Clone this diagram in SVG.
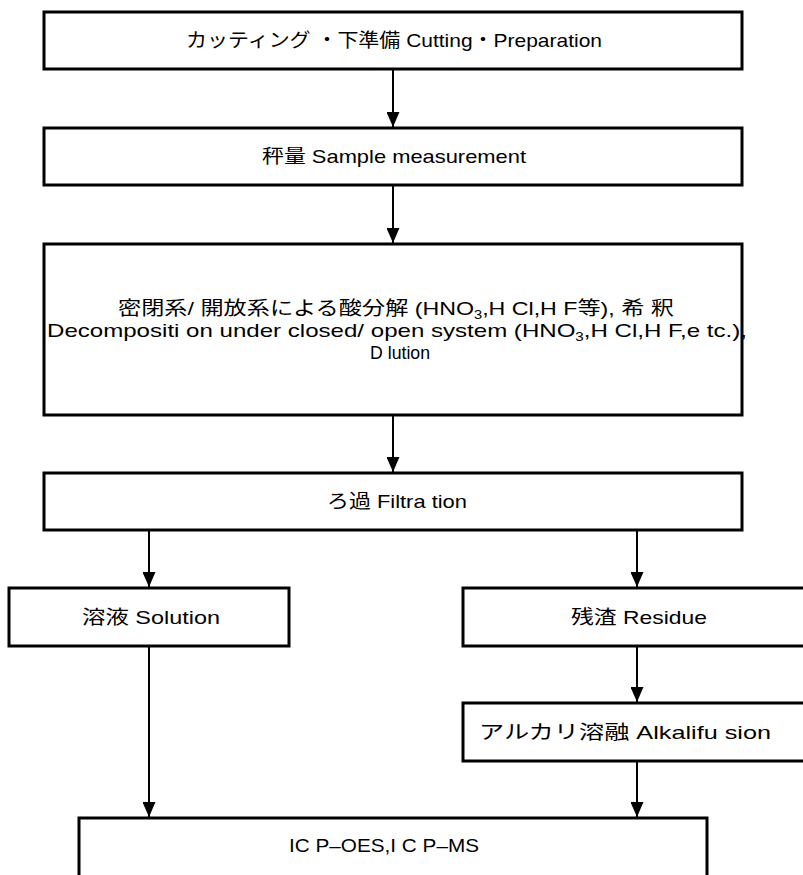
<svg xmlns="http://www.w3.org/2000/svg" width="803" height="875" viewBox="0 0 803 875">
<style>
.box{fill:#fff;stroke:#000;stroke-width:3}
.t{font-family:"Liberation Sans","Noto Sans CJK JP",sans-serif;font-size:19px;fill:#000}
.c{stroke:#000;stroke-width:2;fill:none}
</style>
<defs>
<marker id="ah" markerUnits="userSpaceOnUse" viewBox="0 0 15 13" refX="15" refY="6.5" markerWidth="15" markerHeight="13" orient="auto">
<path d="M0,0 L15,6.5 L0,13 Z" fill="#000"/>
</marker>
</defs>
<rect width="803" height="875" fill="#fff"/>
<g id="connectors">
<line class="c" x1="393" y1="70" x2="393" y2="127" marker-end="url(#ah)"/>
<line class="c" x1="393" y1="186" x2="393" y2="243" marker-end="url(#ah)"/>
<line class="c" x1="393" y1="416" x2="393" y2="472" marker-end="url(#ah)"/>
<line class="c" x1="149" y1="531" x2="149" y2="587" marker-end="url(#ah)"/>
<line class="c" x1="637" y1="531" x2="637" y2="587" marker-end="url(#ah)"/>
<line class="c" x1="637" y1="647" x2="637" y2="702" marker-end="url(#ah)"/>
<line class="c" x1="149" y1="647" x2="149" y2="817" marker-end="url(#ah)"/>
<line class="c" x1="637" y1="762" x2="637" y2="817" marker-end="url(#ah)"/>
</g>
<g id="n1">
<rect class="box" x="44" y="12" width="698" height="57"/>
<text class="t" x="186" y="47" textLength="416" lengthAdjust="spacingAndGlyphs">カッティング ・下準備 Cutting・Preparation</text>
</g>
<g id="n2">
<rect class="box" x="44" y="128" width="698" height="57"/>
<text class="t" x="262" y="163" textLength="264" lengthAdjust="spacingAndGlyphs">秤量 Sample measurement</text>
</g>
<g id="n3">
<rect class="box" x="44" y="244" width="698" height="171"/>
<text class="t" x="118" y="315" textLength="556" lengthAdjust="spacingAndGlyphs">密閉系/ 開放系による酸分解 (HNO<tspan font-size="12" dy="4">3</tspan><tspan dy="-4">,H Cl,H F等), 希 釈</tspan></text>
<text class="t" x="47" y="337" textLength="700" lengthAdjust="spacingAndGlyphs">Decompositi on under closed/ open system (HNO<tspan font-size="12" dy="4">3</tspan><tspan dy="-4">,H Cl,H F,e tc.),</tspan></text>
<text class="t" x="370" y="359" textLength="60" lengthAdjust="spacingAndGlyphs">D lution</text>
</g>
<g id="n4">
<rect class="box" x="44" y="473" width="698" height="57"/>
<text class="t" x="327" y="508" textLength="140" lengthAdjust="spacingAndGlyphs">ろ過 Filtra tion</text>
</g>
<g id="n5">
<rect class="box" x="9" y="588" width="280" height="58"/>
<text class="t" x="82" y="624" textLength="138" lengthAdjust="spacingAndGlyphs">溶液 Solution</text>
</g>
<g id="n6">
<rect class="box" x="463" y="588" width="350" height="58"/>
<text class="t" x="571" y="624" textLength="136" lengthAdjust="spacingAndGlyphs">残渣 Residue</text>
</g>
<g id="n7">
<rect class="box" x="463" y="703" width="350" height="58"/>
<text class="t" x="479" y="739" textLength="292" lengthAdjust="spacingAndGlyphs">アルカリ溶融 Alkalifu sion</text>
</g>
<g id="n8">
<rect class="box" x="79" y="818" width="628" height="80"/>
<text class="t" x="289" y="852" textLength="190" lengthAdjust="spacingAndGlyphs">IC P–OES,I C P–MS</text>
</g>
</svg>
